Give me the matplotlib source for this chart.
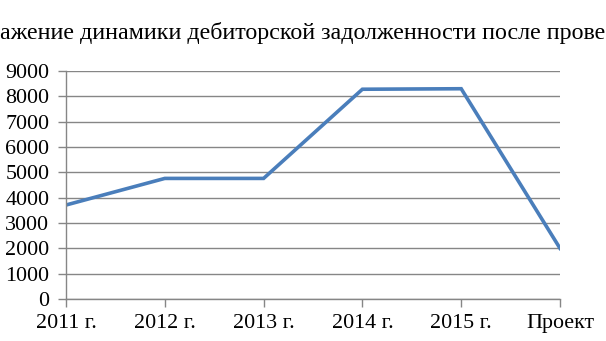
import matplotlib.pyplot as plt

# Data
years = ["2011 г.", "2012 г.", "2013 г.", "2014 г.", "2015 г.", "Проект"]
debt = [3710, 4760, 4760, 8280, 8300, 2000]
y_ticks = list(range(0, 9001, 1000))
title = "ажение динамики дебиторской задолженности после прове"

plt.rcParams['font.family'] = ['Liberation Serif', 'DejaVu Serif']

fig = plt.figure(figsize=(6.06, 3.41), dpi=100)
ax = fig.add_axes([66 / 606, 1 - 299 / 341, (560 - 66) / 606, (299 - 71) / 341])

x = list(range(len(years)))
ax.plot(x, debt, color="#4A7EBB", linewidth=2.6, solid_joinstyle="miter")

ax.set_xlim(0, len(years) - 1)
ax.set_ylim(0, 9000)
ax.set_xticks(x)
ax.set_xticklabels(years)
ax.set_yticks(y_ticks)
ax.grid(True, axis="y", color="#868686", linewidth=1)
ax.set_axisbelow(True)

for side in ["top", "right"]:
    ax.spines[side].set_visible(False)
for side in ["left", "bottom"]:
    ax.spines[side].set_color("#868686")
    ax.spines[side].set_linewidth(1)

ax.tick_params(axis="both", colors="#868686", labelcolor="black", labelsize=15.8, length=6, width=1)
ax.tick_params(axis="y", pad=6)
ax.tick_params(axis="x", pad=4.5)

fig.text(0, 1 - 33 / 341, title, ha="left", va="center", fontsize=17.3)

fig.savefig("out.png", dpi=100)
